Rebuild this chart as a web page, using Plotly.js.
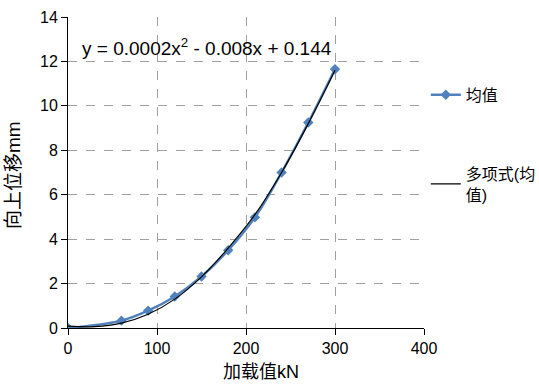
<!DOCTYPE html>
<html><head><meta charset="utf-8">
<script src="https://cdn.plot.ly/plotly-3.0.1.min.js"></script>
<style>html,body{margin:0;padding:0;background:#fff}#c{width:539px;height:389px}</style>
</head><body><div id="c"></div>
<script>
const loadKN = [0, 60, 90, 120, 150, 180, 210, 240, 270, 300];
const meanDisp = [0, 0.33, 0.78, 1.42, 2.32, 3.5, 4.98, 7.0, 9.25, 11.65];
const trendX = [0, 30, 60, 90, 120, 150, 180, 210, 240, 270, 300];
const trendY = [0.08, 0.06, 0.22, 0.62, 1.3, 2.3, 3.6, 5.1, 7.0, 9.2, 11.6];
const xTicks = [0, 100, 200, 300, 400];
const yTicks = [0, 2, 4, 6, 8, 10, 12, 14];
const seriesName = '均值';
const trendName = '多项式(均<br>值)';
const equation = 'y = 0.0002x<sup>2</sup> - 0.008x + 0.144';
const xTitle = '加载值kN';
const yTitle = '向上位移mm';

const font = '"Liberation Sans", "Noto Sans CJK SC", sans-serif';
const traces = [
  {x: loadKN, y: meanDisp, name: seriesName, type: 'scatter', mode: 'lines+markers',
   line: {color: '#4F81BD', width: 2.5, shape: 'spline'},
   marker: {symbol: 'diamond', size: 8, color: '#4F81BD'}, legendgroup: 'a'},
  {x: trendX, y: trendY, name: trendName, type: 'scatter', mode: 'lines',
   line: {color: '#000000', width: 1.2, shape: 'spline'}, legendgroup: 'b'}
];
const layout = {
  width: 539, height: 389,
  margin: {l: 68, r: 115, t: 17, b: 61},
  paper_bgcolor: '#fff', plot_bgcolor: '#fff',
  font: {family: font, size: 16, color: '#000'},
  showlegend: true,
  legend: {xref: 'container', yref: 'container', x: 0.79, y: 0.8, xanchor: 'left', yanchor: 'top',
           tracegroupgap: 55, font: {size: 16, family: font}, itemwidth: 30, bgcolor: 'rgba(0,0,0,0)'},
  xaxis: {range: [0, 400], tickvals: xTicks, showgrid: true, gridcolor: '#A0A0A0', griddash: 'dash',
          showline: true, linecolor: '#000', linewidth: 1, ticks: 'outside', ticklen: 6, tickcolor: '#000',
          zeroline: false, tickfont: {size: 16},
          title: {text: '&nbsp;&nbsp;&nbsp;&nbsp;&nbsp;&nbsp;' + xTitle, font: {size: 18}, standoff: 9}},
  yaxis: {range: [0, 14], tickvals: yTicks, showgrid: true, gridcolor: '#A0A0A0', griddash: 'dash',
          showline: true, linecolor: '#000', linewidth: 1, ticks: 'outside', ticklen: 6, tickcolor: '#000',
          zeroline: false, tickfont: {size: 16},
          title: {text: yTitle + '&nbsp;', font: {size: 19}, standoff: 14}},
  annotations: [{text: equation, xref: 'x', yref: 'y', x: 13, y: 12.65, xanchor: 'left', yanchor: 'middle',
                 showarrow: false, font: {size: 19, family: font}}]
};
Plotly.newPlot('c', traces, layout, {displayModeBar: false, staticPlot: true});
</script></body></html>
